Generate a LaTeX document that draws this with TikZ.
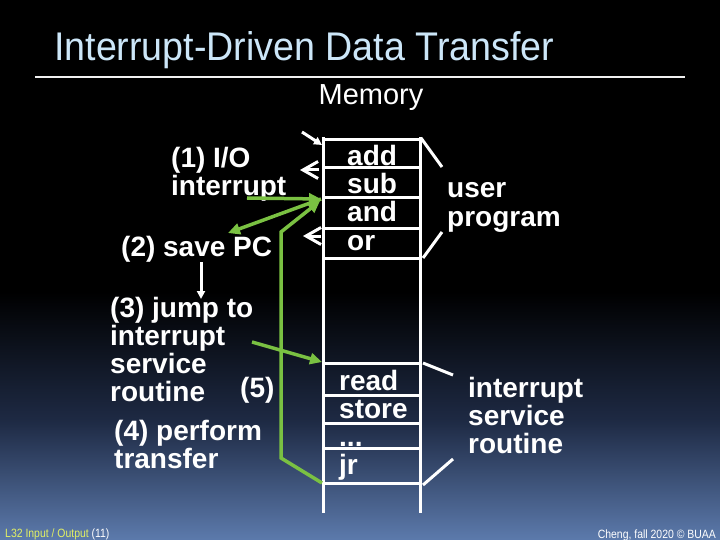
\documentclass[tikz,border=0pt]{standalone}
\usepackage{fontspec}
\setmainfont{Liberation Sans}
\newfontfamily\titlefont[FakeStretch=0.94]{Liberation Sans}
\newfontfamily\footfont[FakeStretch=0.87]{Liberation Sans}
\usetikzlibrary{arrows.meta}
\definecolor{bgbot}{RGB}{92,122,172}
\definecolor{bgmid}{RGB}{30,42,68}
\definecolor{ggreen}{RGB}{122,193,66}
\definecolor{titleblue}{RGB}{204,230,248}
\definecolor{footyellow}{RGB}{226,240,100}
\pgfdeclareverticalshading{bgshade}{100bp}{color(0bp)=(bgbot); color(25bp)=(bgbot); color(36bp)=(bgmid); color(48bp)=(black); color(100bp)=(black)}
\begin{document}
\begin{tikzpicture}[x=1pt,y=-1pt,
  body/.style={text=white,font=\fontsize{28}{28}\selectfont\bfseries,anchor=base west,inner sep=0pt},
  memline/.style={white,line width=3pt},
  garrow/.style={ggreen,line width=3.5pt,-{Triangle[length=12pt,width=11pt]}},
  warrow/.style={white,line width=3pt,-{Triangle[length=8pt,width=8pt]}},
  wbarb/.style={white,line width=3pt,-{Straight Barb[length=15pt,width=17pt]}},
]
\shade[shading=bgshade] (0,0) rectangle (720,540);
\useasboundingbox (0,0) rectangle (720,540);

% title
\node[anchor=base west,inner sep=0pt,text=titleblue,font=\titlefont\fontsize{40}{40}\selectfont] (title) at (54,61) {Interrupt-Driven Data Transfer};
\draw[white!88!gray,line width=1.5pt] (35,77) -- (685,77);
\node[anchor=base,inner sep=0pt,text=white,font=\fontsize{29}{29}\selectfont] (mem) at (371,105) {Memory};

% memory column
\draw[memline] (323,137) -- (323,513);
\draw[memline] (420,137) -- (420,513);
\foreach \y in {140,168,198,229,258,363,395,423,448,483}
  \draw[memline] (323,\y) -- (420,\y);

\node[body] (add) at (347,166) {add};
\node[body] (sub) at (347,194) {sub};
\node[body] (and) at (347,222) {and};
\node[body] (or) at (347,250) {or};
\node[body] (read) at (339,390) {read};
\node[body] (store) at (339,418) {store};
\node[body] (dots) at (339,446) {...};
\node[body] (jr) at (339,474) {jr};

% braces
\draw[memline] (421,138) -- (442,167);
\draw[memline] (442,232) -- (423,258);
\draw[memline] (423,363) -- (453,375);
\draw[memline] (453,459) -- (423,485);

\node[body] (user) at (447,198) {user};
\node[body] (prog) at (447,226) {program};
\node[body] (isr1) at (468,397) {interrupt};
\node[body] (isr2) at (468,425) {service};
\node[body] (isr3) at (468,453) {routine};

% left labels
\node[body] (l1a) at (171,168) {(1) I/O};
\node[body] (l1b) at (171,196) {interrupt};
\node[body] (l2) at (121,256) {(2) save PC};
\node[body] (l3a) at (110,317) {(3) jump to};
\node[body] (l3b) at (110,345) {interrupt};
\node[body] (l3c) at (110,373) {service};
\node[body] (l3d) at (110,401) {routine};
\node[body] (l5) at (240,397) {(5)};
\node[body] (l4a) at (114,440) {(4) perform};
\node[body] (l4b) at (114,468) {transfer};

% coordinates for connectors
\coordinate (g1s) at (247,198);
\coordinate (colA) at (321,199);
\coordinate (savept) at (228,233);
\coordinate (jrb) at (322,483);
\coordinate (bend1) at (281,458);
\coordinate (bend2) at (281,232);
\coordinate (colB) at (320,201);
\coordinate (j3) at (252,342);
\coordinate (readtop) at (322,362);
\coordinate (sv) at (201,262);
\coordinate (jt) at (201,299);
\coordinate (w1s) at (302,132);
\coordinate (w1e) at (322,145);
\coordinate (w2s) at (319,170);
\coordinate (w2e) at (300,170);
\coordinate (w3s) at (321,236);
\coordinate (w3e) at (303,236);

% green arrows
\draw[garrow] (g1s) -- (colA);
\draw[garrow] (colA) -- (savept);
\draw[garrow] (jrb) -- (bend1) -- (bend2) -- (colB);
\draw[garrow] (j3) -- (readtop);

% white arrows
\draw[warrow] (sv) -- (jt);
\draw[warrow] (w1s) -- (w1e);
\draw[wbarb] (w2s) -- (w2e);
\draw[wbarb] (w3s) -- (w3e);

% footer
\node[anchor=base west,inner sep=0pt,font=\footfont\fontsize{12}{12}\selectfont] (footl) at (5,537) {\textcolor{footyellow}{L32 Input / Output} \textcolor{white}{(11)}};
\node[anchor=base east,inner sep=0pt,text=white,font=\footfont\fontsize{12}{12}\selectfont] (footr) at (716,538) {Cheng, fall 2020 © BUAA};
\end{tikzpicture}
\end{document}
